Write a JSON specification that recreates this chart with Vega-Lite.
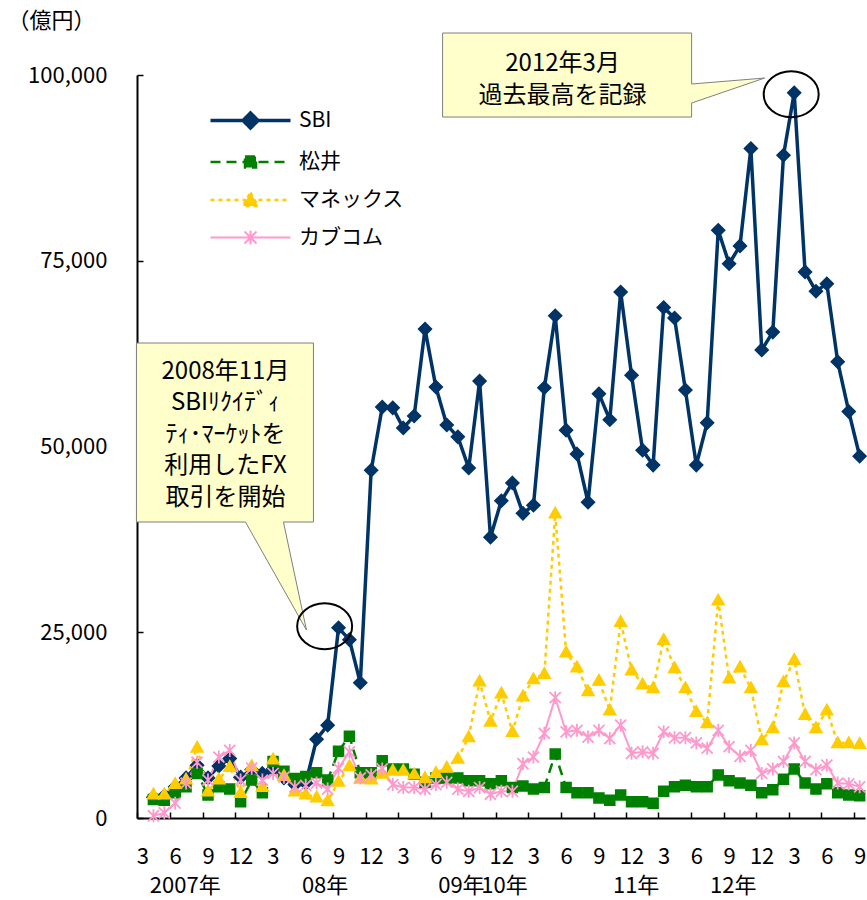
{
  "$schema": "https://vega.github.io/schema/vega-lite/v6.json",
  "width": 728,
  "height": 743,
  "autosize": {"type": "none"},
  "padding": {"left": 137, "top": 75, "right": 2, "bottom": 82},
  "background": "white",
  "config": {
    "view": {"stroke": null},
    "font": "Noto Sans CJK JP",
    "axis": {"grid": false, "labelFont": "Noto Sans CJK JP", "labelColor": "black", "labelFontWeight": "normal", "domainColor": "black", "tickColor": "black"},
    "legend": {
      "orient": "none", "legendX": 101.5, "legendY": 33.5, "direction": "vertical",
      "symbolSize": 400, "symbolOpacity": 1, "symbolStrokeWidth": 2.5,
      "labelFontSize": 21, "labelFont": "Noto Sans CJK JP", "labelColor": "black", "labelOffset": 36.5,
      "rowPadding": 15, "padding": 0
    }
  },
  "datasets": {
    "fx": [
      {"month":"2007-04","company":"SBI","value":2800},{"month":"2007-05","company":"SBI","value":3000},{"month":"2007-06","company":"SBI","value":4200},{"month":"2007-07","company":"SBI","value":5400},{"month":"2007-08","company":"SBI","value":7100},{"month":"2007-09","company":"SBI","value":5400},{"month":"2007-10","company":"SBI","value":7000},{"month":"2007-11","company":"SBI","value":8000},{"month":"2007-12","company":"SBI","value":5500},
      {"month":"2008-01","company":"SBI","value":6500},{"month":"2008-02","company":"SBI","value":6000},{"month":"2008-03","company":"SBI","value":6600},{"month":"2008-04","company":"SBI","value":5400},{"month":"2008-05","company":"SBI","value":4500},{"month":"2008-06","company":"SBI","value":4700},{"month":"2008-07","company":"SBI","value":10600},{"month":"2008-08","company":"SBI","value":12500},{"month":"2008-09","company":"SBI","value":25600},{"month":"2008-10","company":"SBI","value":24000},{"month":"2008-11","company":"SBI","value":18200},{"month":"2008-12","company":"SBI","value":46800},
      {"month":"2009-01","company":"SBI","value":55300},{"month":"2009-02","company":"SBI","value":55200},{"month":"2009-03","company":"SBI","value":52500},{"month":"2009-04","company":"SBI","value":54100},{"month":"2009-05","company":"SBI","value":65800},{"month":"2009-06","company":"SBI","value":58000},{"month":"2009-07","company":"SBI","value":52900},{"month":"2009-08","company":"SBI","value":51300},{"month":"2009-09","company":"SBI","value":47100},{"month":"2009-10","company":"SBI","value":58800},{"month":"2009-11","company":"SBI","value":37800},{"month":"2009-12","company":"SBI","value":42700},
      {"month":"2010-01","company":"SBI","value":45100},{"month":"2010-02","company":"SBI","value":41000},{"month":"2010-03","company":"SBI","value":42100},{"month":"2010-04","company":"SBI","value":57900},{"month":"2010-05","company":"SBI","value":67600},{"month":"2010-06","company":"SBI","value":52200},{"month":"2010-07","company":"SBI","value":49000},{"month":"2010-08","company":"SBI","value":42500},{"month":"2010-09","company":"SBI","value":57100},{"month":"2010-10","company":"SBI","value":53600},{"month":"2010-11","company":"SBI","value":70800},{"month":"2010-12","company":"SBI","value":59600},
      {"month":"2011-01","company":"SBI","value":49500},{"month":"2011-02","company":"SBI","value":47500},{"month":"2011-03","company":"SBI","value":68700},{"month":"2011-04","company":"SBI","value":67300},{"month":"2011-05","company":"SBI","value":57600},{"month":"2011-06","company":"SBI","value":47500},{"month":"2011-07","company":"SBI","value":53200},{"month":"2011-08","company":"SBI","value":79100},{"month":"2011-09","company":"SBI","value":74600},{"month":"2011-10","company":"SBI","value":77000},{"month":"2011-11","company":"SBI","value":90100},{"month":"2011-12","company":"SBI","value":63000},
      {"month":"2012-01","company":"SBI","value":65400},{"month":"2012-02","company":"SBI","value":89200},{"month":"2012-03","company":"SBI","value":97600},{"month":"2012-04","company":"SBI","value":73500},{"month":"2012-05","company":"SBI","value":70900},{"month":"2012-06","company":"SBI","value":71900},{"month":"2012-07","company":"SBI","value":61400},{"month":"2012-08","company":"SBI","value":54700},{"month":"2012-09","company":"SBI","value":48700},

      {"month":"2007-04","company":"松井","value":2500},{"month":"2007-05","company":"松井","value":2400},{"month":"2007-06","company":"松井","value":3400},{"month":"2007-07","company":"松井","value":4200},{"month":"2007-08","company":"松井","value":6000},{"month":"2007-09","company":"松井","value":3100},{"month":"2007-10","company":"松井","value":4200},{"month":"2007-11","company":"松井","value":3900},{"month":"2007-12","company":"松井","value":2200},
      {"month":"2008-01","company":"松井","value":5100},{"month":"2008-02","company":"松井","value":3400},{"month":"2008-03","company":"松井","value":7600},{"month":"2008-04","company":"松井","value":6300},{"month":"2008-05","company":"松井","value":5300},{"month":"2008-06","company":"松井","value":5600},{"month":"2008-07","company":"松井","value":6100},{"month":"2008-08","company":"松井","value":5100},{"month":"2008-09","company":"松井","value":9000},{"month":"2008-10","company":"松井","value":11000},{"month":"2008-11","company":"松井","value":6100},{"month":"2008-12","company":"松井","value":6100},
      {"month":"2009-01","company":"松井","value":7700},{"month":"2009-02","company":"松井","value":6600},{"month":"2009-03","company":"松井","value":6600},{"month":"2009-04","company":"松井","value":5900},{"month":"2009-05","company":"松井","value":4800},{"month":"2009-06","company":"松井","value":5400},{"month":"2009-07","company":"松井","value":5400},{"month":"2009-08","company":"松井","value":5400},{"month":"2009-09","company":"松井","value":5000},{"month":"2009-10","company":"松井","value":5000},{"month":"2009-11","company":"松井","value":4600},{"month":"2009-12","company":"松井","value":5000},
      {"month":"2010-01","company":"松井","value":4100},{"month":"2010-02","company":"松井","value":4300},{"month":"2010-03","company":"松井","value":3900},{"month":"2010-04","company":"松井","value":4100},{"month":"2010-05","company":"松井","value":8600},{"month":"2010-06","company":"松井","value":4100},{"month":"2010-07","company":"松井","value":3400},{"month":"2010-08","company":"松井","value":3400},{"month":"2010-09","company":"松井","value":2700},{"month":"2010-10","company":"松井","value":2400},{"month":"2010-11","company":"松井","value":3100},{"month":"2010-12","company":"松井","value":2200},
      {"month":"2011-01","company":"松井","value":2200},{"month":"2011-02","company":"松井","value":2000},{"month":"2011-03","company":"松井","value":3600},{"month":"2011-04","company":"松井","value":4200},{"month":"2011-05","company":"松井","value":4400},{"month":"2011-06","company":"松井","value":4200},{"month":"2011-07","company":"松井","value":4200},{"month":"2011-08","company":"松井","value":5800},{"month":"2011-09","company":"松井","value":5000},{"month":"2011-10","company":"松井","value":4700},{"month":"2011-11","company":"松井","value":4400},{"month":"2011-12","company":"松井","value":3400},
      {"month":"2012-01","company":"松井","value":3800},{"month":"2012-02","company":"松井","value":5200},{"month":"2012-03","company":"松井","value":6600},{"month":"2012-04","company":"松井","value":4700},{"month":"2012-05","company":"松井","value":3900},{"month":"2012-06","company":"松井","value":4600},{"month":"2012-07","company":"松井","value":3400},{"month":"2012-08","company":"松井","value":3100},{"month":"2012-09","company":"松井","value":3000},

      {"month":"2007-04","company":"マネックス","value":3200},{"month":"2007-05","company":"マネックス","value":3200},{"month":"2007-06","company":"マネックス","value":4600},{"month":"2007-07","company":"マネックス","value":5200},{"month":"2007-08","company":"マネックス","value":9500},{"month":"2007-09","company":"マネックス","value":3600},{"month":"2007-10","company":"マネックス","value":5200},{"month":"2007-11","company":"マネックス","value":6900},{"month":"2007-12","company":"マネックス","value":3400},
      {"month":"2008-01","company":"マネックス","value":7000},{"month":"2008-02","company":"マネックス","value":4200},{"month":"2008-03","company":"マネックス","value":7900},{"month":"2008-04","company":"マネックス","value":5700},{"month":"2008-05","company":"マネックス","value":3600},{"month":"2008-06","company":"マネックス","value":3200},{"month":"2008-07","company":"マネックス","value":2800},{"month":"2008-08","company":"マネックス","value":2300},{"month":"2008-09","company":"マネックス","value":4900},{"month":"2008-10","company":"マネックス","value":7000},{"month":"2008-11","company":"マネックス","value":5300},{"month":"2008-12","company":"マネックス","value":5200},
      {"month":"2009-01","company":"マネックス","value":6000},{"month":"2009-02","company":"マネックス","value":6400},{"month":"2009-03","company":"マネックス","value":6400},{"month":"2009-04","company":"マネックス","value":5900},{"month":"2009-05","company":"マネックス","value":5400},{"month":"2009-06","company":"マネックス","value":6100},{"month":"2009-07","company":"マネックス","value":6800},{"month":"2009-08","company":"マネックス","value":8000},{"month":"2009-09","company":"マネックス","value":10900},{"month":"2009-10","company":"マネックス","value":18400},{"month":"2009-11","company":"マネックス","value":13000},{"month":"2009-12","company":"マネックス","value":16800},
      {"month":"2010-01","company":"マネックス","value":11600},{"month":"2010-02","company":"マネックス","value":16400},{"month":"2010-03","company":"マネックス","value":18700},{"month":"2010-04","company":"マネックス","value":19400},{"month":"2010-05","company":"マネックス","value":41000},{"month":"2010-06","company":"マネックス","value":22300},{"month":"2010-07","company":"マネックス","value":20300},{"month":"2010-08","company":"マネックス","value":17100},{"month":"2010-09","company":"マネックス","value":18500},{"month":"2010-10","company":"マネックス","value":14500},{"month":"2010-11","company":"マネックス","value":26400},{"month":"2010-12","company":"マネックス","value":19900},
      {"month":"2011-01","company":"マネックス","value":18000},{"month":"2011-02","company":"マネックス","value":17500},{"month":"2011-03","company":"マネックス","value":24000},{"month":"2011-04","company":"マネックス","value":20200},{"month":"2011-05","company":"マネックス","value":17500},{"month":"2011-06","company":"マネックス","value":14300},{"month":"2011-07","company":"マネックス","value":12800},{"month":"2011-08","company":"マネックス","value":29300},{"month":"2011-09","company":"マネックス","value":18800},{"month":"2011-10","company":"マネックス","value":20300},{"month":"2011-11","company":"マネックス","value":17500},{"month":"2011-12","company":"マネックス","value":10500},
      {"month":"2012-01","company":"マネックス","value":12100},{"month":"2012-02","company":"マネックス","value":18300},{"month":"2012-03","company":"マネックス","value":21300},{"month":"2012-04","company":"マネックス","value":13900},{"month":"2012-05","company":"マネックス","value":12100},{"month":"2012-06","company":"マネックス","value":14500},{"month":"2012-07","company":"マネックス","value":10100},{"month":"2012-08","company":"マネックス","value":10100},{"month":"2012-09","company":"マネックス","value":10000},

      {"month":"2007-04","company":"カブコム","value":300},{"month":"2007-05","company":"カブコム","value":700},{"month":"2007-06","company":"カブコム","value":2000},{"month":"2007-07","company":"カブコム","value":4700},{"month":"2007-08","company":"カブコム","value":7500},{"month":"2007-09","company":"カブコム","value":5100},{"month":"2007-10","company":"カブコム","value":8200},{"month":"2007-11","company":"カブコム","value":9100},{"month":"2007-12","company":"カブコム","value":5100},
      {"month":"2008-01","company":"カブコム","value":6700},{"month":"2008-02","company":"カブコム","value":5100},{"month":"2008-03","company":"カブコム","value":6000},{"month":"2008-04","company":"カブコム","value":5500},{"month":"2008-05","company":"カブコム","value":4200},{"month":"2008-06","company":"カブコム","value":4400},{"month":"2008-07","company":"カブコム","value":4700},{"month":"2008-08","company":"カブコム","value":3900},{"month":"2008-09","company":"カブコム","value":6700},{"month":"2008-10","company":"カブコム","value":8900},{"month":"2008-11","company":"カブコム","value":5400},{"month":"2008-12","company":"カブコム","value":5800},
      {"month":"2009-01","company":"カブコム","value":6600},{"month":"2009-02","company":"カブコム","value":4500},{"month":"2009-03","company":"カブコム","value":4100},{"month":"2009-04","company":"カブコム","value":4100},{"month":"2009-05","company":"カブコム","value":3900},{"month":"2009-06","company":"カブコム","value":4500},{"month":"2009-07","company":"カブコム","value":4800},{"month":"2009-08","company":"カブコム","value":3900},{"month":"2009-09","company":"カブコム","value":3600},{"month":"2009-10","company":"カブコム","value":4100},{"month":"2009-11","company":"カブコム","value":3200},{"month":"2009-12","company":"カブコム","value":3600},
      {"month":"2010-01","company":"カブコム","value":3600},{"month":"2010-02","company":"カブコム","value":7300},{"month":"2010-03","company":"カブコム","value":8200},{"month":"2010-04","company":"カブコム","value":11400},{"month":"2010-05","company":"カブコム","value":16200},{"month":"2010-06","company":"カブコム","value":11600},{"month":"2010-07","company":"カブコム","value":11800},{"month":"2010-08","company":"カブコム","value":10900},{"month":"2010-09","company":"カブコム","value":11800},{"month":"2010-10","company":"カブコム","value":10700},{"month":"2010-11","company":"カブコム","value":12500},{"month":"2010-12","company":"カブコム","value":8700},
      {"month":"2011-01","company":"カブコム","value":8900},{"month":"2011-02","company":"カブコム","value":8700},{"month":"2011-03","company":"カブコム","value":11600},{"month":"2011-04","company":"カブコム","value":10800},{"month":"2011-05","company":"カブコム","value":10800},{"month":"2011-06","company":"カブコム","value":10100},{"month":"2011-07","company":"カブコム","value":9400},{"month":"2011-08","company":"カブコム","value":11800},{"month":"2011-09","company":"カブコム","value":9600},{"month":"2011-10","company":"カブコム","value":8300},{"month":"2011-11","company":"カブコム","value":9100},{"month":"2011-12","company":"カブコム","value":6000},
      {"month":"2012-01","company":"カブコム","value":6600},{"month":"2012-02","company":"カブコム","value":7600},{"month":"2012-03","company":"カブコム","value":10100},{"month":"2012-04","company":"カブコム","value":7600},{"month":"2012-05","company":"カブコム","value":6500},{"month":"2012-06","company":"カブコム","value":7100},{"month":"2012-07","company":"カブコム","value":4700},{"month":"2012-08","company":"カブコム","value":4600},{"month":"2012-09","company":"カブコム","value":4200}
    ],
    "notes": [
      {"id":"n1","month":"2008-08","value":25800,"text":["2008年11月","SBIﾘｸｲﾃﾞｨ","ﾃｨ･ﾏｰｹｯﾄを","利用したFX","取引を開始"]},
      {"id":"n2","month":"2012-03","value":97400,"text":["2012年3月","過去最高を記録"]}
    ]
  },
  "encoding": {
    "y": {
      "field": "value", "type": "quantitative",
      "scale": {"domain": [0, 100000], "nice": false},
      "axis": {
        "values": [0, 25000, 50000, 75000, 100000], "format": ",d",
        "labelFontSize": 22, "labelPadding": 36, "tickSize": -6, "tickWidth": 1.5, "domainWidth": 2,
        "title": "（億円）", "titleAngle": 0, "titleAlign": "left", "titleBaseline": "middle",
        "titleX": -130, "titleY": -55, "titleFontSize": 22, "titleFontWeight": "normal", "titleColor": "black", "titleFont": "Noto Sans CJK JP"
      }
    }
  },
  "layer": [
    {
      "data": {"name": "fx"},
      "mark": {"type": "line", "strokeJoin": "round"},
      "encoding": {
        "x": {
          "field": "month", "type": "temporal", "timeUnit": "utcyearmonth", "bandPosition": 0.5,
          "scale": {"domain": [{"year": 2007, "month": 3, "date": 1, "utc": true}, {"year": 2012, "month": 10, "date": 1, "utc": true}], "nice": false},
          "axis": {
            "title": null, "labelAngle": 0, "labelFontSize": 22, "labelOffset": 5.4, "labelPadding": 34,
            "labelOverlap": false, "labelFlush": false, "labelBound": false,
            "tickSize": -6, "tickWidth": 1.5, "domainWidth": 2,
            "labelExpr": "'' + (utcmonth(datum.value) + 1)",
            "values": [
              {"year":2007,"month":3,"date":1,"utc":true},{"year":2007,"month":6,"date":1,"utc":true},{"year":2007,"month":9,"date":1,"utc":true},{"year":2007,"month":12,"date":1,"utc":true},
              {"year":2008,"month":3,"date":1,"utc":true},{"year":2008,"month":6,"date":1,"utc":true},{"year":2008,"month":9,"date":1,"utc":true},{"year":2008,"month":12,"date":1,"utc":true},
              {"year":2009,"month":3,"date":1,"utc":true},{"year":2009,"month":6,"date":1,"utc":true},{"year":2009,"month":9,"date":1,"utc":true},{"year":2009,"month":12,"date":1,"utc":true},
              {"year":2010,"month":3,"date":1,"utc":true},{"year":2010,"month":6,"date":1,"utc":true},{"year":2010,"month":9,"date":1,"utc":true},{"year":2010,"month":12,"date":1,"utc":true},
              {"year":2011,"month":3,"date":1,"utc":true},{"year":2011,"month":6,"date":1,"utc":true},{"year":2011,"month":9,"date":1,"utc":true},{"year":2011,"month":12,"date":1,"utc":true},
              {"year":2012,"month":3,"date":1,"utc":true},{"year":2012,"month":6,"date":1,"utc":true},{"year":2012,"month":9,"date":1,"utc":true}
            ]
          }
        },
        "color": {
          "field": "company", "type": "nominal",
          "scale": {"domain": ["SBI", "松井", "マネックス", "カブコム"], "range": ["#003366", "#008000", "#FFCC00", "#FF99CC"]},
          "legend": {"title": null}
        },
        "strokeDash": {
          "field": "company", "type": "nominal",
          "scale": {"domain": ["SBI", "松井", "マネックス", "カブコム"], "range": [[1, 0], [10, 6], [4, 4], [1, 0]]},
          "legend": {"title": null}
        },
        "strokeWidth": {
          "field": "company", "type": "nominal",
          "scale": {"type": "ordinal", "domain": ["SBI", "松井", "マネックス", "カブコム"], "range": [3.5, 2.5, 2.5, 2]},
          "legend": {"title": null}
        }
      }
    },
    {
      "data": {"name": "fx"},
      "transform": [{"filter": "datum.company === 'SBI'"}],
      "mark": {"type": "point", "shape": "M0,-1L1,0L0,1L-1,0Z", "size": 169, "filled": true, "color": "#003366", "stroke": "#003366", "strokeWidth": 1.5, "opacity": 1},
      "encoding": {"x": {"field": "month", "type": "temporal", "timeUnit": "utcyearmonth", "bandPosition": 0.5, "axis": null}}
    },
    {
      "data": {"name": "fx"},
      "transform": [{"filter": "datum.company === '松井'"}],
      "mark": {"type": "point", "shape": "M-1,-1L1,-1L1,1L-1,1Z", "size": 100, "filled": true, "color": "#008000", "stroke": "#008000", "strokeWidth": 1.5, "opacity": 1},
      "encoding": {"x": {"field": "month", "type": "temporal", "timeUnit": "utcyearmonth", "bandPosition": 0.5, "axis": null}}
    },
    {
      "data": {"name": "fx"},
      "transform": [{"filter": "datum.company === 'マネックス'"}],
      "mark": {"type": "point", "shape": "M0,-1L1,0.75L-1,0.75Z", "size": 144, "filled": true, "color": "#FFCC00", "stroke": "#FFCC00", "strokeWidth": 1.5, "opacity": 1},
      "encoding": {"x": {"field": "month", "type": "temporal", "timeUnit": "utcyearmonth", "bandPosition": 0.5, "axis": null}}
    },
    {
      "data": {"name": "fx"},
      "transform": [{"filter": "datum.company === 'カブコム'"}],
      "mark": {"type": "point", "shape": "M0,-1L0,1M-0.85,-0.85L0.85,0.85M-0.85,0.85L0.85,-0.85", "size": 169, "filled": false, "stroke": "#FF99CC", "strokeWidth": 1.8, "opacity": 1},
      "encoding": {"x": {"field": "month", "type": "temporal", "timeUnit": "utcyearmonth", "bandPosition": 0.5, "axis": null}}
    },
    {
      "data": {"name": "fx"},
      "mark": {"type": "point", "filled": true, "opacity": 0},
      "encoding": {
        "color": {"field": "company", "type": "nominal", "legend": {"title": null}},
        "fill": {
          "field": "company", "type": "nominal",
          "scale": {"domain": ["SBI", "松井", "マネックス", "カブコム"], "range": ["#003366", "#008000", "#FFCC00", "#FF99CC"]},
          "legend": {"title": null}
        },
        "shape": {
          "field": "company", "type": "nominal",
          "scale": {"domain": ["SBI", "松井", "マネックス", "カブコム"], "range": ["M-4,0L4,0M0,-0.75L0.75,0L0,0.75L-0.75,0Z", "M-4,0L4,0M-0.55,-0.55L0.55,-0.55L0.55,0.55L-0.55,0.55Z", "M-4,0L4,0M0,-0.75L0.75,0.6L-0.75,0.6Z", "M-4,0L4,0M0,-0.7L0,0.7M-0.6,-0.6L0.6,0.6M-0.6,0.6L0.6,-0.6"]},
          "legend": {"title": null}
        }
      }
    },
    {
      "data": {"name": "notes"},
      "transform": [{"filter": "datum.id === 'n1'"}],
      "mark": {"type": "point", "shape": "M-191.2,-283.3L-14.2,-283.3L-14.2,-104.3L-44.2,-104.3L-21.2,3.7L-82.2,-104.3L-191.2,-104.3Z", "size": 4, "filled": true, "fill": "#FFFFCC", "stroke": "#7F7F7F", "strokeWidth": 1, "opacity": 1},
      "encoding": {
        "x": {
          "field": "month", "type": "temporal", "timeUnit": "utcyearmonth", "bandPosition": 0.5,
          "axis": {
            "orient": "bottom", "title": null, "domain": false, "ticks": false, "tickSize": 0,
            "labelAngle": 0, "labelFontSize": 22, "labelPadding": 57, "labelOverlap": false, "labelFlush": false, "labelBound": false,
            "values": [
              {"year":2007,"month":7,"date":13,"utc":true},{"year":2008,"month":8,"date":8,"utc":true},{"year":2009,"month":8,"date":25,"utc":true},
              {"year":2009,"month":12,"date":24,"utc":true},{"year":2010,"month":12,"date":28,"utc":true},{"year":2011,"month":9,"date":26,"utc":true}
            ],
            "labelExpr": "(utcyear(datum.value)*100 + utcmonth(datum.value)) == 200706 ? '2007年' : (utcyear(datum.value)*100 + utcmonth(datum.value)) == 200807 ? '08年' : (utcyear(datum.value)*100 + utcmonth(datum.value)) == 200907 ? '09年' : (utcyear(datum.value)*100 + utcmonth(datum.value)) == 200911 ? '10年' : (utcyear(datum.value)*100 + utcmonth(datum.value)) == 201011 ? '11年' : (utcyear(datum.value)*100 + utcmonth(datum.value)) == 201108 ? '12年' : ''"
          }
        }
      }
    },
    {
      "data": {"name": "notes"},
      "transform": [{"filter": "datum.id === 'n2'"}],
      "mark": {"type": "point", "shape": "M-351.6,-61.3L-102.6,-61.3L-102.6,-10.3L-29.6,-16.3L-102.6,8.7L-102.6,22.7L-351.6,22.7Z", "size": 4, "filled": true, "fill": "#FFFFCC", "stroke": "#7F7F7F", "strokeWidth": 1, "opacity": 1},
      "encoding": {
        "x": {"field": "month", "type": "temporal", "timeUnit": "utcyearmonth", "bandPosition": 0.5, "axis": null}
      }
    },
    {
      "data": {"name": "notes"},
      "mark": {"type": "point", "shape": "M-30.5,0A27.5,23 0 1,1 24.5,0A27.5,23 0 1,1 -30.5,0Z", "size": 4, "filled": false, "stroke": "black", "strokeWidth": 2, "opacity": 1},
      "encoding": {
        "x": {"field": "month", "type": "temporal", "timeUnit": "utcyearmonth", "bandPosition": 0.5, "axis": null}
      }
    },
    {
      "data": {"name": "notes"},
      "transform": [{"filter": "datum.id === 'n1'"}],
      "mark": {"type": "text", "dx": -102.2, "dy": -254.5, "fontSize": 24, "lineHeight": 31.5, "font": "Noto Sans CJK JP", "color": "black", "align": "center", "baseline": "middle"},
      "encoding": {
        "x": {"field": "month", "type": "temporal", "timeUnit": "utcyearmonth", "bandPosition": 0.5, "axis": null},
        "text": {"field": "text"}
      }
    },
    {
      "data": {"name": "notes"},
      "transform": [{"filter": "datum.id === 'n2'"}],
      "mark": {"type": "text", "dx": -231.6, "dy": -30.3, "fontSize": 24, "lineHeight": 32, "font": "Noto Sans CJK JP", "color": "black", "align": "center", "baseline": "middle"},
      "encoding": {
        "x": {"field": "month", "type": "temporal", "timeUnit": "utcyearmonth", "bandPosition": 0.5, "axis": null},
        "text": {"field": "text"}
      }
    }
  ],
  "resolve": {"axis": {"x": "independent"}}
}
